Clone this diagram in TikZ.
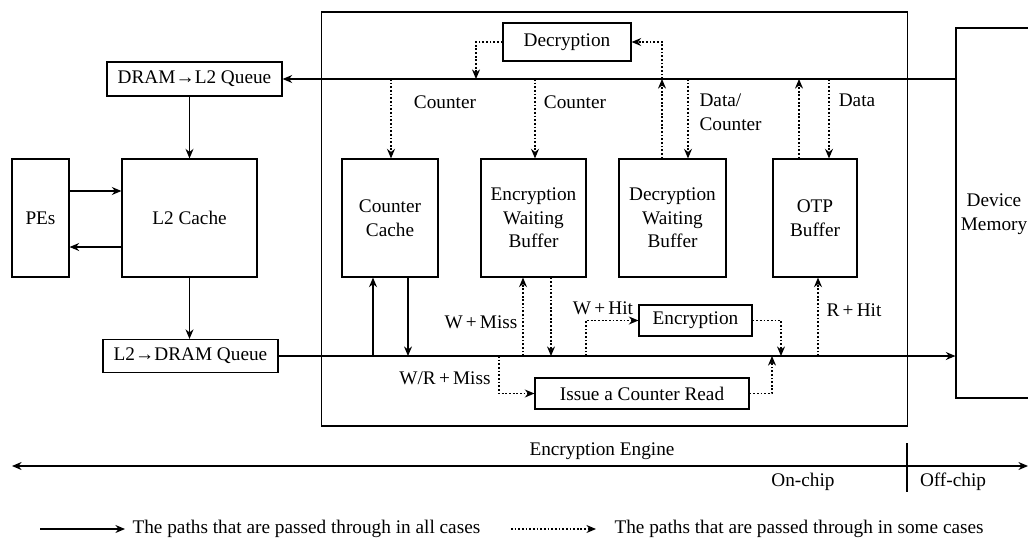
\documentclass[tikz,border=0pt]{standalone}
\usepackage{fontspec}
\setmainfont{Liberation Serif}
\usetikzlibrary{arrows.meta,positioning,calc}

\begin{document}
\begin{tikzpicture}[
    x=0.025cm, y=-0.025cm,
    font=\fontsize{13.7}{16.7}\selectfont,
    line width=0.8pt,
    block/.style={rectangle, draw, align=center, inner sep=0pt},
    arrow/.style={-{Stealth[length=2.4mm,width=2mm]}},
    dotarrow/.style={arrow, dash pattern=on 1.3pt off 1.3pt},
    dotline/.style={dash pattern=on 1.3pt off 1.3pt}
]
    \useasboundingbox (0,0) rectangle (1028,541);

    % outer frames
    \node[block, minimum width=14.625cm, minimum height=10.35cm] (engine) at (614.5,219) {};
    \node[block, minimum width=2.25cm, minimum height=9.25cm] (devmem) at (1001,213) {};
    \node[align=center] (devtext) at (994,214) {Device\\Memory};

    % host side
    \node[block, minimum width=4.375cm, minimum height=0.85cm] (dramq) at (194.5,79) {DRAM→L2 Queue};
    \node[block, minimum width=3.375cm, minimum height=2.95cm] (l2) at (189.5,218) {L2 Cache};
    \node[block, minimum width=1.425cm, minimum height=2.95cm] (pes) at (40.5,218) {PEs};
    \node[block, minimum width=4.375cm, minimum height=0.825cm] (l2q) at (190.5,356) {L2→DRAM Queue};

    % engine blocks
    \node[block, minimum width=3.2cm, minimum height=0.95cm] (dec) at (567,42) {Decryption};
    \node[block, minimum width=2.4cm, minimum height=2.95cm] (ccache) at (390,218) {Counter\\Cache};
    \node[block, minimum width=2.625cm, minimum height=2.95cm] (ewb) at (533.5,218) {Encryption\\Waiting\\Buffer};
    \node[block, minimum width=2.675cm, minimum height=2.95cm] (dwb) at (672.5,218) {Decryption\\Waiting\\Buffer};
    \node[block, minimum width=2.1cm, minimum height=2.95cm] (otp) at (815,218) {OTP\\Buffer};
    \node[block, minimum width=2.825cm, minimum height=0.775cm] (enc) at (695.5,320.5) {Encryption};
    \node[block, minimum width=5.35cm, minimum height=0.775cm] (icr) at (642,393.5) {Issue a Counter Read};

    % main buses
    \draw[arrow] (devmem.west |- dramq.east) -- (dramq.east);
    \draw[arrow] (l2q.east) -- (devmem.west |- l2q.east);
    \draw[arrow] (l2.north |- dramq.south) -- (l2.north);
    \draw[arrow] (l2.south) -- (l2.south |- l2q.north);
    \draw[arrow] ([yshift=0.675cm]pes.east) -- ([yshift=0.675cm]l2.west);
    \draw[arrow] ([yshift=-0.725cm]l2.west) -- ([yshift=-0.725cm]pes.east);

    % junctions on the read bus
    \coordinate (t0) at (476,79);
    \coordinate (t1) at (391,79);
    \coordinate (t2) at (535,79);
    \coordinate (t3) at (688,79);
    \coordinate (t4) at (829,79);
    \coordinate (t5) at (662,79);
    \coordinate (t6) at (799,79);

    \draw[dotarrow] (dec.west) -| (t0);
    \draw[dotarrow] (t1) -- (t1 |- ccache.north);
    \draw[dotarrow] (t2) -- (t2 |- ewb.north);
    \draw[dotarrow] (t3) -- (t3 |- dwb.north);
    \draw[dotarrow] (t4) -- (t4 |- otp.north);
    \draw[dotarrow] (t5 |- dwb.north) -- (t5);
    \draw[dotarrow] (t5) |- (dec.east);
    \draw[dotarrow] (t6 |- otp.north) -- (t6);

    % junctions on the write bus
    \coordinate (b1) at (373,356);
    \coordinate (b2) at (408,356);
    \coordinate (b3) at (523,356);
    \coordinate (b4) at (551,356);
    \coordinate (b5) at (586,356);
    \coordinate (b6) at (781,356);
    \coordinate (b7) at (499,356);
    \coordinate (b8) at (772,356);
    \coordinate (b9) at (818,356);

    \draw[arrow] (b1) -- (b1 |- ccache.south);
    \draw[arrow] (b2 |- ccache.south) -- (b2);
    \draw[dotarrow] (b3) -- (b3 |- ewb.south);
    \draw[dotarrow] (b4 |- ewb.south) -- (b4);
    \draw[dotarrow] (b5) |- (enc.west);
    \draw[dotarrow] (enc.east) -| (b6);
    \draw[dotarrow] (b7) |- (icr.west);
    \draw[dotarrow] (icr.east) -| (b8);
    \draw[dotarrow] (b9) -- (b9 |- otp.south);

    % path labels
    \node (lcnt1) at (445,102) {Counter};
    \node (lcnt2) at (575,102) {Counter};
    \node[anchor=west, align=left, inner sep=0pt] (ldata1) at (699,112) {Data/\\Counter};
    \node (ldata2) at (857,100) {Data};
    \node (lwmiss) at (481,322) {W\,+\,Miss};
    \node (lwhit) at (603,308) {W\,+\,Hit};
    \node (lwrmiss) at (445,378) {W/R\,+\,Miss};
    \node (lrhit) at (854,310) {R\,+\,Hit};

    % chip boundary
    \node (lengine) at (602,451) {Encryption Engine};
    \coordinate (bl) at (12,466);
    \coordinate (br) at (1028,466);
    \draw[{Stealth[length=2.4mm,width=2mm]}-{Stealth[length=2.4mm,width=2mm]}] (bl) -- (br);
    \coordinate (tk1) at (907,443);
    \coordinate (tk2) at (907,492);
    \draw (tk1) -- (tk2);
    \node (lon) at (803,482) {On-chip};
    \node (loff) at (953,482) {Off-chip};

    % legend
    \coordinate (ls1) at (40,529);
    \coordinate (ls2) at (125,529);
    \draw[arrow] (ls1) -- (ls2);
    \node[anchor=west, inner sep=0pt] (lall) at (132,529) {The paths that are passed through in all cases};
    \coordinate (ld1) at (511,529);
    \coordinate (ld2) at (596,529);
    \draw[dotarrow] (ld1) -- (ld2);
    \node[anchor=west, inner sep=0pt] (lsome) at (614,529) {The paths that are passed through in some cases};
\end{tikzpicture}
\end{document}
